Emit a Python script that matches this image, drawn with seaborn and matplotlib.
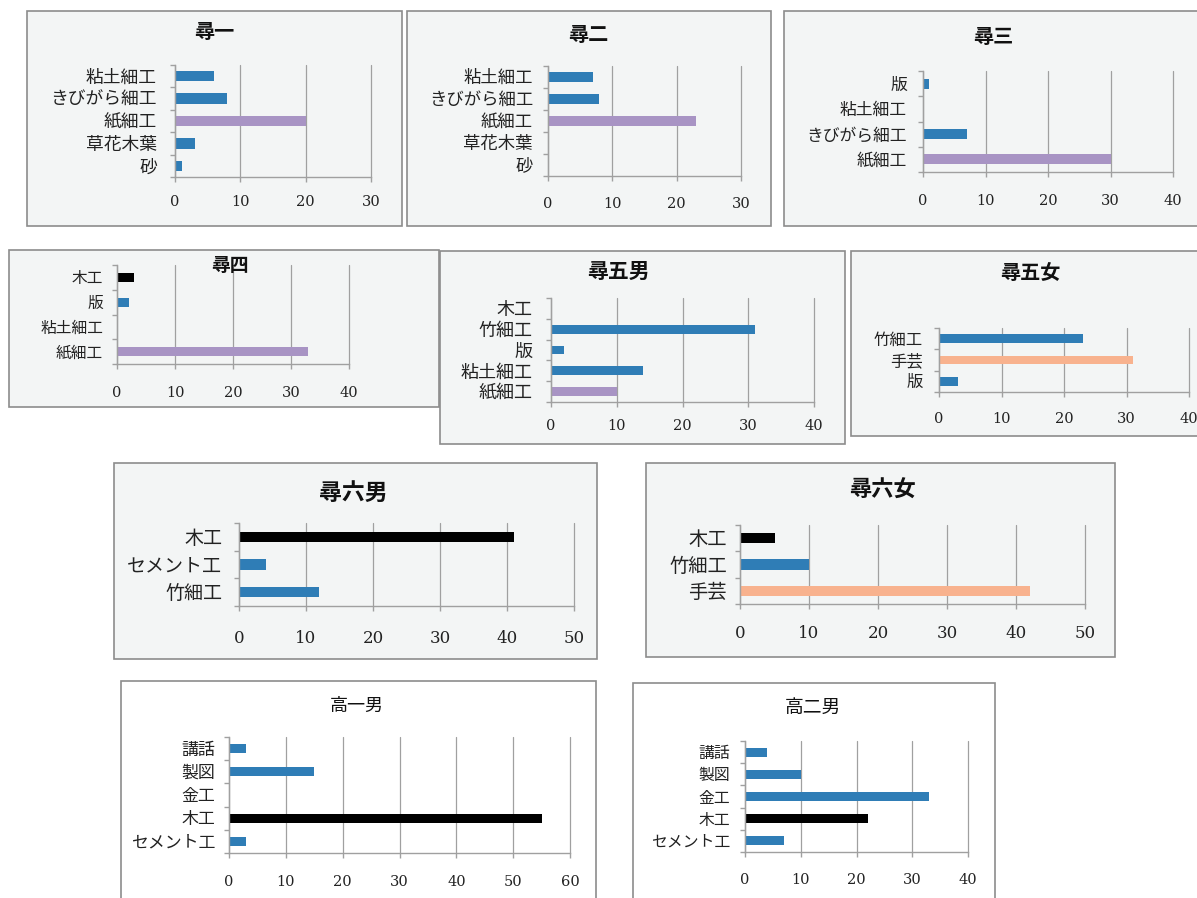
import matplotlib
matplotlib.use("Agg")
import matplotlib.pyplot as plt
from matplotlib.patches import Rectangle
from matplotlib.ticker import MultipleLocator, FixedLocator, NullFormatter
import seaborn as sns
import pandas as pd

sns.set_theme(style="white")
plt.rcParams['font.family'] = ['Liberation Serif', 'Noto Sans CJK JP', 'DejaVu Sans']

# ---------------- data ----------------
titles = ['尋一', '尋二', '尋三', '尋四', '尋五男', '尋五女', '尋六男', '尋六女', '高一男', '高二男']

cats1 = ['粘土細工', 'きびがら細工', '紙細工', '草花木葉', '砂']
vals1 = [6, 8, 20, 3, 1]
cats2 = ['粘土細工', 'きびがら細工', '紙細工', '草花木葉', '砂']
vals2 = [7, 8, 23, 0, 0]
cats3 = ['版', '粘土細工', 'きびがら細工', '紙細工']
vals3 = [1, 0, 7, 30]
cats4 = ['木工', '版', '粘土細工', '紙細工']
vals4 = [3, 2, 0, 33]
cats5 = ['木工', '竹細工', '版', '粘土細工', '紙細工']
vals5 = [0, 31, 2, 14, 10]
cats6 = ['竹細工', '手芸', '版']
vals6 = [23, 31, 3]
cats7 = ['木工', 'セメント工', '竹細工']
vals7 = [41, 4, 12]
cats8 = ['木工', '竹細工', '手芸']
vals8 = [5, 10, 42]
cats9 = ['講話', '製図', '金工', '木工', 'セメント工']
vals9 = [3, 15, 0, 55, 3]
cats10 = ['講話', '製図', '金工', '木工', 'セメント工']
vals10 = [4, 10, 33, 22, 7]

xmax = [30, 30, 40, 40, 40, 40, 50, 50, 60, 40]

all_cats = [cats1, cats2, cats3, cats4, cats5, cats6, cats7, cats8, cats9, cats10]
all_vals = [vals1, vals2, vals3, vals4, vals5, vals6, vals7, vals8, vals9, vals10]

# ---------------- style ----------------
BLUE = '#2f7db6'
PURPLE = '#a894c4'
SALMON = '#f8b28e'
BLACK = '#000000'
special = {'紙細工': PURPLE, '手芸': SALMON, '木工': BLACK}
TICKLEN = 3.6

W, H = 1197, 898
# box px, axes px (x0, x1, ytop, ybottom), title (x, y, size, weight),
# label size, label pad, tick size, tick pad, bar width, bg
layout = [
    dict(box=(27, 11, 402, 226), ax=(175, 371, 65, 177), title=(214, 33, 14.5, 'bold'),
         ls=12.8, lp=13, ts=10.5, tp=9.5, bw=0.46, bg='#f3f5f5'),
    dict(box=(407, 11, 771, 226), ax=(548, 741, 66, 176), title=(588, 36, 14.5, 'bold'),
         ls=12.5, lp=10.8, ts=10.5, tp=11.8, bw=0.46, bg='#f3f5f5'),
    dict(box=(784, 11, 1200, 226), ax=(923, 1173, 71, 172), title=(993, 38, 14.5, 'bold'),
         ls=12.1, lp=11.5, ts=10.5, tp=12.5, bw=0.40, bg='#f3f5f5'),
    dict(box=(9, 250, 439, 407), ax=(117, 349, 265, 364), title=(230, 266, 13.5, 'bold'),
         ls=11.3, lp=10, ts=10.5, tp=12.5, bw=0.37, bg='#f3f5f5'),
    dict(box=(440, 251, 845, 444), ax=(551, 814, 298, 402), title=(618, 273, 15, 'bold'),
         ls=13, lp=13, ts=10.5, tp=8.5, bw=0.43, bg='#f3f5f5'),
    dict(box=(851, 251, 1200, 436), ax=(939, 1189, 328, 392), title=(1030, 274, 14.5, 'bold'),
         ls=11.8, lp=11.5, ts=10.5, tp=11.1, bw=0.42, bg='#f3f5f5'),
    dict(box=(114, 463, 597, 659), ax=(239, 574, 523, 606), title=(353, 494, 16.5, 'bold'),
         ls=13.7, lp=12, ts=12, tp=13.5, bw=0.37, bg='#f3f5f5'),
    dict(box=(646, 463, 1115, 657), ax=(740, 1085, 525, 604), title=(882, 491, 16, 'bold'),
         ls=13.9, lp=9.5, ts=12, tp=11.8, bw=0.38, bg='#f3f5f5'),
    dict(box=(121, 681, 596, 905), ax=(229, 570, 737, 853), title=(357, 706, 13, 'normal'),
         ls=12.2, lp=10, ts=10.5, tp=12.2, bw=0.39, bg='#ffffff'),
    dict(box=(633, 683, 995, 905), ax=(745, 968, 741, 852), title=(813, 708, 13.5, 'normal'),
         ls=11.4, lp=10.8, ts=10.5, tp=11.5, bw=0.40, bg='#ffffff'),
]

fig = plt.figure(figsize=(W / 100, H / 100), dpi=100)
fig.patch.set_facecolor('white')

for i in range(10):
    L = layout[i]
    bx0, by0, bx1, by1 = L['box']
    bg = L['bg']
    fig.patches.append(Rectangle((bx0 / W, 1 - by1 / H), (bx1 - bx0) / W, (by1 - by0) / H,
                                 transform=fig.transFigure, facecolor=bg,
                                 edgecolor='#8c8c8c', linewidth=1.2, zorder=-10))
    ax0, ax1, at, ab = L['ax']
    ax = fig.add_axes([ax0 / W, 1 - ab / H, (ax1 - ax0) / W, (ab - at) / H])
    ax.set_zorder(1)
    ax.set_facecolor(bg)

    cats = all_cats[i]
    vals = all_vals[i]
    df = pd.DataFrame({'cat': cats, 'val': vals})
    pal = {c: special.get(c, BLUE) for c in cats}
    sns.barplot(data=df, x='val', y='cat', hue='cat', palette=pal, order=cats,
                hue_order=cats, legend=False, width=L['bw'], ax=ax, linewidth=0,
                saturation=1)
    n = len(cats)
    ax.set_xlim(0, xmax[i])
    ax.set_ylim(n - 0.5, -0.5)
    ax.xaxis.set_major_locator(MultipleLocator(10))
    ax.grid(axis='x', color='#a0a0a0', linewidth=0.9)
    ax.grid(axis='y', visible=False)
    ax.set_axisbelow(True)
    for gl in ax.get_xgridlines():
        gl.set_clip_on(False)
    for s in ['top', 'right']:
        ax.spines[s].set_visible(False)
    for s in ['left', 'bottom']:
        ax.spines[s].set_visible(True)
        ax.spines[s].set_color('#a0a0a0')
        ax.spines[s].set_linewidth(1.0)
    ax.set_xlabel('')
    ax.set_ylabel('')
    ax.yaxis.set_minor_locator(FixedLocator([k - 0.5 for k in range(n + 1)]))
    ax.yaxis.set_minor_formatter(NullFormatter())
    ax.tick_params(axis='y', which='minor', length=TICKLEN, width=1.0, color='#a0a0a0',
                   left=True, direction='out')
    ax.tick_params(axis='y', which='major', length=0, pad=L['lp'], labelsize=L['ls'],
                   labelcolor='#222222')
    ax.tick_params(axis='x', which='major', length=TICKLEN, width=1.0, color='#a0a0a0',
                   bottom=True, direction='out', pad=L['tp'], labelsize=L['ts'],
                   labelcolor='#222222')
    for lab in ax.get_xticklabels():
        lab.set_fontfamily(['DejaVu Serif'])

    tx, ty, tsz, tw = L['title']
    fig.text(tx / W, 1 - ty / H, titles[i], ha='center', va='center', fontsize=tsz,
             fontweight=tw, color='#111111', zorder=5)

fig.savefig('out.png', dpi=100)
